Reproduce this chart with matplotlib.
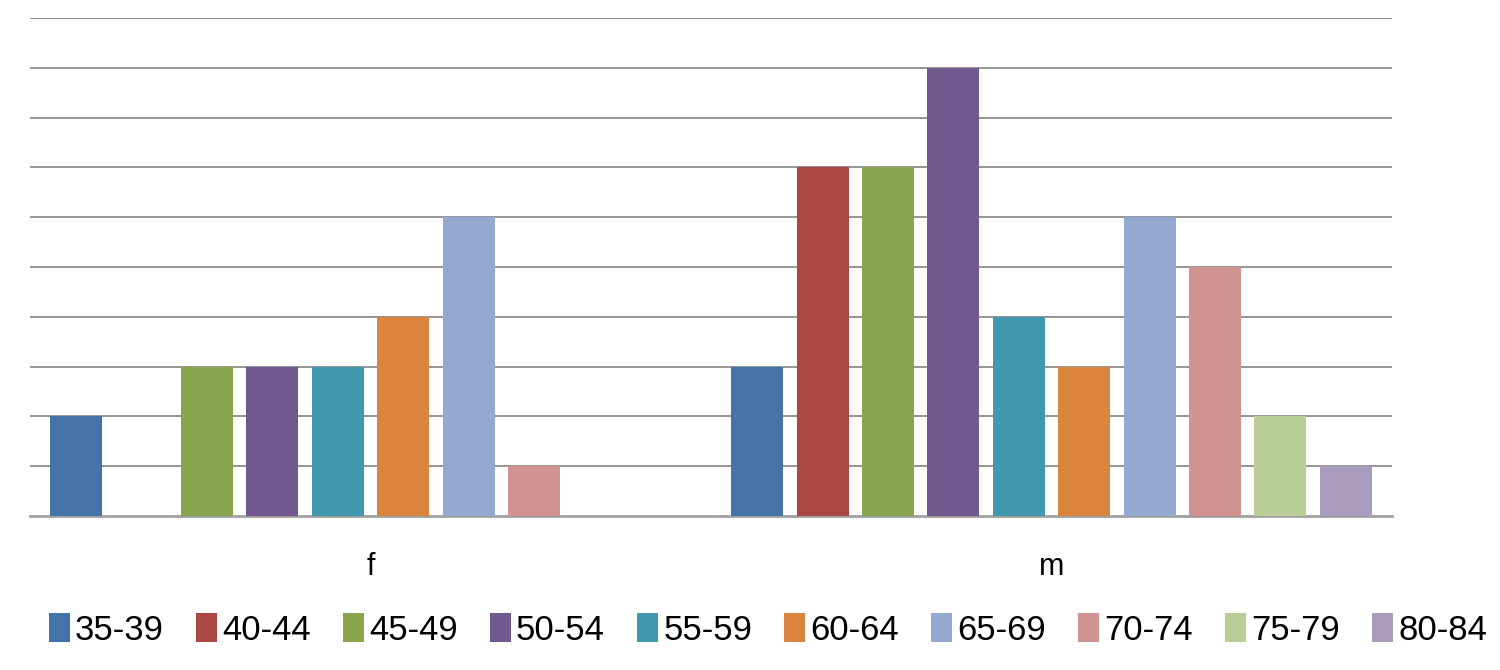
import numpy as np
import matplotlib.pyplot as plt
from matplotlib.patches import Patch

plt.rcParams['font.family'] = ['Liberation Sans', 'DejaVu Sans']

categories = ["f", "m"]
age_groups = ["35-39", "40-44", "45-49", "50-54", "55-59",
              "60-64", "65-69", "70-74", "75-79", "80-84"]
f_counts = [2, 0, 3, 3, 3, 4, 6, 1, 0, 0]
m_counts = [3, 7, 7, 9, 4, 3, 6, 5, 2, 1]
colors = ["#4572A7", "#AA4643", "#89A54E", "#71588F", "#4198AF",
          "#DB843D", "#93A9CF", "#D19392", "#B9CD96", "#A99BBD"]

fig = plt.figure(figsize=(15, 6.7), dpi=100)
ax = fig.add_axes([30/1500, 1 - 516/670, (1392-30)/1500, (516-18)/670])

x = np.arange(len(categories))
slot = 0.096
width = 0.0764
n = len(age_groups)
for i, (ag, c) in enumerate(zip(age_groups, colors)):
    vals = [f_counts[i], m_counts[i]]
    ax.bar(x + (i - (n - 1) / 2) * slot, vals, width=width, color=c, zorder=3)

ax.set_xlim(-0.5, 1.5)
ax.set_ylim(0, 10)
ax.set_yticks(np.arange(1, 11))
ax.yaxis.grid(True, color="#8c8c8c", linewidth=1.3, zorder=0)
ax.tick_params(axis="y", left=False, labelleft=False)
ax.set_xticks(x)
ax.set_xticklabels(categories, fontsize=22)
ax.tick_params(axis="x", length=0, pad=26)
for s in ["top", "right", "left"]:
    ax.spines[s].set_visible(False)
ax.spines["bottom"].set_color("#a0a0a0")
ax.spines["bottom"].set_linewidth(2)

handles = [Patch(facecolor=c, label=a) for a, c in zip(age_groups, colors)]
fig.legend(handles=handles, loc="lower center", bbox_to_anchor=(0.512, -0.012),
           ncol=n, frameon=False, fontsize=25, handlelength=0.6, handleheight=0.9,
           handletextpad=0.15, columnspacing=0.93)

fig.savefig("out.png", dpi=100)
